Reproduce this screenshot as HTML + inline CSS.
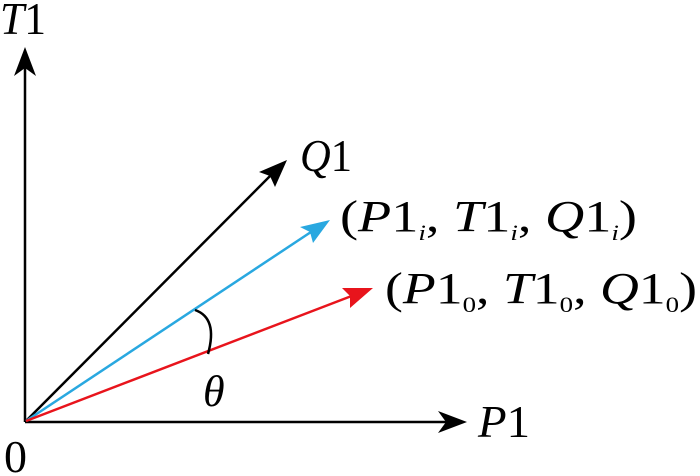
<!DOCTYPE html>
<html><head><meta charset="utf-8"><style>
html,body{margin:0;padding:0;background:#fff;}
svg{display:block;}
svg text{font-family:"Liberation Serif","DejaVu Serif","Times New Roman",serif;fill:#000;}
</style></head><body>
<svg width="700" height="476" viewBox="0 0 700 476" xmlns="http://www.w3.org/2000/svg" font-family="Liberation Serif, DejaVu Serif, serif">
<!-- axes -->
<line x1="25" y1="422" x2="25" y2="62" stroke="#000" stroke-width="2.5"/>
<path d="M25,47 L14,76 L25,68 L36,76 Z" fill="#000"/>
<line x1="25" y1="422" x2="452" y2="422" stroke="#000" stroke-width="2.5"/>
<path d="M467,422 L438,411 L446,422 L438,433 Z" fill="#000"/>
<!-- Q1 black -->
<line x1="26" y1="421" x2="278" y2="168" stroke="#000" stroke-width="2.5"/>
<path d="M287,160 L259,172 L270,176 L275,187 Z" fill="#000"/>
<!-- blue -->
<line x1="26" y1="421" x2="320" y2="226" stroke="#29a8e0" stroke-width="2.5"/>
<path d="M330,220 L300,227 L310,232 L313,243 Z" fill="#29a8e0"/>
<!-- red -->
<line x1="26" y1="421" x2="362" y2="292" stroke="#e8141c" stroke-width="2.5"/>
<path d="M373,288 L342,288 L350,296 L350,308 Z" fill="#e8141c"/>
<!-- arc -->
<path d="M195,310 Q218,318 208,354" fill="none" stroke="#000" stroke-width="2.5"/>
<!-- labels -->
<text x="0" y="34" font-size="46" textLength="46" lengthAdjust="spacingAndGlyphs"><tspan font-style="italic">T</tspan>1</text>
<text x="300" y="171" font-size="46" textLength="52" lengthAdjust="spacingAndGlyphs"><tspan font-style="italic">Q</tspan>1</text>
<text x="340" y="231" font-size="44" textLength="297" lengthAdjust="spacingAndGlyphs">(<tspan font-style="italic">P</tspan>1<tspan font-size="22" font-style="italic" dy="9">i</tspan><tspan dy="-9">, </tspan><tspan font-style="italic">T</tspan>1<tspan font-size="22" font-style="italic" dy="9">i</tspan><tspan dy="-9">, </tspan><tspan font-style="italic">Q</tspan>1<tspan font-size="22" font-style="italic" dy="9">i</tspan><tspan dy="-9">)</tspan></text>
<text x="385" y="303" font-size="44" textLength="312" lengthAdjust="spacingAndGlyphs">(<tspan font-style="italic">P</tspan>1<tspan font-size="22" dy="9">0</tspan><tspan dy="-9">, </tspan><tspan font-style="italic">T</tspan>1<tspan font-size="22" dy="9">0</tspan><tspan dy="-9">, </tspan><tspan font-style="italic">Q</tspan>1<tspan font-size="22" dy="9">0</tspan><tspan dy="-9">)</tspan></text>
<text x="478" y="437" font-size="46" textLength="52" lengthAdjust="spacingAndGlyphs"><tspan font-style="italic">P</tspan>1</text>
<text x="4" y="472" font-size="46">0</text>
<text x="203" y="406" font-size="44" font-style="italic">θ</text>
</svg>
</body></html>
